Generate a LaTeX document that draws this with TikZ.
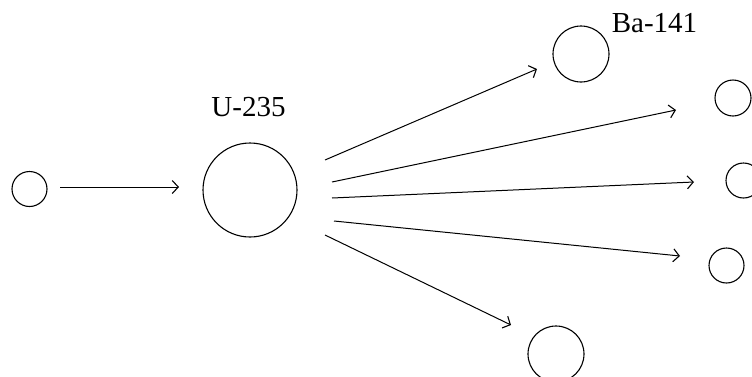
\documentclass[tikz,border=0pt]{standalone}
\usepackage{fontspec}
\setmainfont{Liberation Serif}
\usetikzlibrary{arrows.meta}
\begin{document}
\begin{tikzpicture}[x=1pt,y=-1pt,
  particle/.style={draw,circle,inner sep=0pt,line width=1.1pt,minimum size=#1},
  flight/.style={line width=1pt,-{Straight Barb[length=6pt,width=13pt,line width=1.1pt]}},
  tag/.style={font=\fontsize{29}{31}\selectfont}]
\useasboundingbox (0,0) rectangle (752,376);
% neutron and target nucleus
\node[particle=35pt] (n) at (29.5,189) {};
\node[particle=94pt] (u) at (250,190) {};
\node[tag] (ulabel) at (248.5,107) {U-235};
% fission products and released neutrons
\node[particle=56pt] (ba) at (581,54) {};
\node[tag] (balabel) at (654.5,23) {Ba-141};
\node[particle=36pt] (n1) at (733,98) {};
\node[particle=35pt] (n2) at (743.5,180.5) {};
\node[particle=35pt] (n3) at (726.5,265.5) {};
\node[particle=56pt] (kr) at (556,354) {};
% arrow ends
\coordinate (in0) at (60,187);  \coordinate (in1) at (179,187);
\coordinate (a0) at (325,160);  \coordinate (a1) at (537,69);
\coordinate (b0) at (332,182);  \coordinate (b1) at (676,110);
\coordinate (c0) at (332,198);  \coordinate (c1) at (694,182);
\coordinate (d0) at (334,221);  \coordinate (d1) at (680,256);
\coordinate (e0) at (325,235);  \coordinate (e1) at (511,325);
\draw[flight] (in0) -- (in1);
\draw[flight] (a0) -- (a1);
\draw[flight] (b0) -- (b1);
\draw[flight] (c0) -- (c1);
\draw[flight] (d0) -- (d1);
\draw[flight] (e0) -- (e1);
\end{tikzpicture}
\end{document}
